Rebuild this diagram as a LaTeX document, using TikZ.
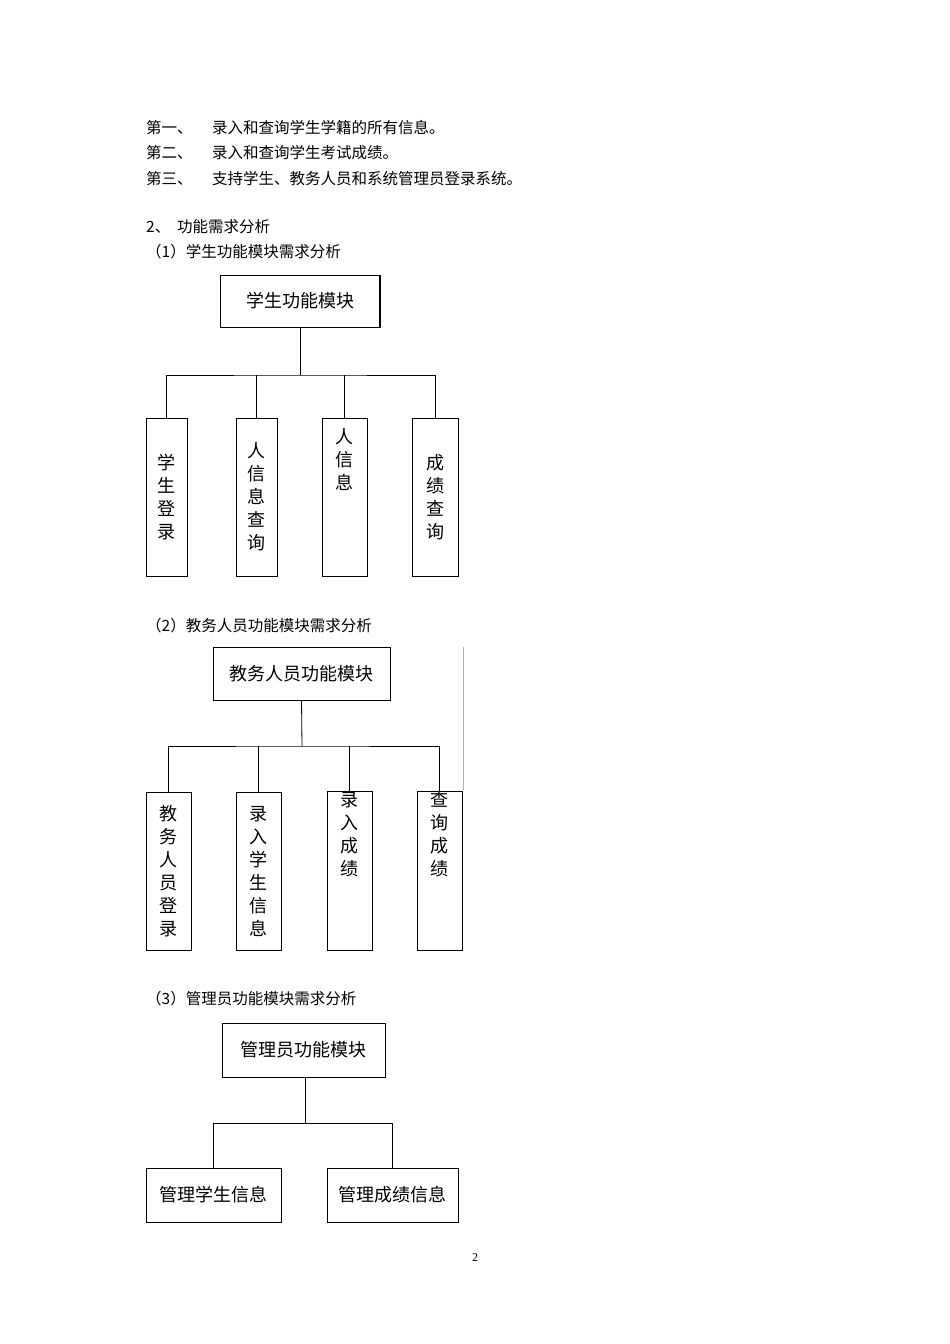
\documentclass[tikz,border=0pt]{standalone}
\usepackage{fontspec}
\setmainfont{Liberation Serif}
\newfontfamily\cjk{Noto Sans CJK SC}
\tikzset{
  modbox/.style={draw, line width=0.8pt, inner sep=0pt, font=\cjk\fontsize{18}{22}\selectfont},
  leafbox/.style={draw, line width=0.8pt, inner sep=0pt, align=center, font=\cjk\fontsize{18}{23}\selectfont},
  txt/.style={anchor=west, inner sep=0pt, font=\cjk\fontsize{15.5}{18}\selectfont},
  link/.style={line width=0.8pt}
}
\begin{document}
\begin{tikzpicture}[x=1pt,y=-1pt]
\useasboundingbox[fill=white] (0,0) rectangle (950,1344);
% intro text
\node[txt] (l1a) at (146,128) {第一、};
\node[txt] (l1b) at (212,128) {录入和查询学生学籍的所有信息。};
\node[txt] (l2a) at (146,153) {第二、};
\node[txt] (l2b) at (212,153) {录入和查询学生考试成绩。};
\node[txt] (l3a) at (146,179) {第三、};
\node[txt] (l3b) at (212,179) {支持学生、教务人员和系统管理员登录系统。};
\node[txt] (h2) at (146,227) {2、\ \ 功能需求分析};
\node[txt] (h21) at (146,252) {（1）学生功能模块需求分析};
% diagram 1
\node[modbox, minimum width=160, minimum height=52] (stu) at (300,301) {学生功能模块};
\draw[line width=1.6pt] ([xshift=-0.5pt]stu.north east) -- ([xshift=-0.5pt]stu.south east) -- (stu.south west);
\node[leafbox, minimum width=41, minimum height=158] (s1) at (166.5,497) {学\\生\\登\\录};
\node[leafbox, minimum width=41, minimum height=158] (s2) at (256.5,497) {人\\信\\息\\查\\询};
\node[leafbox, minimum width=45, minimum height=158] (s3) at (344.5,497) {人\\信\\息\\[2.9em]};
\node[leafbox, minimum width=46, minimum height=158] (s4) at (435,497) {成\\绩\\查\\询};
\coordinate (j1) at (300,375);
\draw[link] (stu.south) -- (j1);
\draw[link] (s1.north) |- (j1) -| (s4.north);
\draw[link] (s2.north) -- (s2.north |- j1);
\draw[link] (s3.north) -- (s3.north |- j1);
\draw[line width=1.4pt] (s1.north east) -- (s1.south east) -- (s1.south west);
% diagram 2
\node[txt] (h22) at (146,626) {（2）教务人员功能模块需求分析};
\node[modbox, minimum width=177, minimum height=53] (adm) at (301.5,673.5) {教务人员功能模块};
\node[leafbox, minimum width=45, minimum height=158] (a1) at (168.5,871) {教\\务\\人\\员\\登\\录};
\node[leafbox, minimum width=45, minimum height=158] (a2) at (258.5,871) {录\\入\\学\\生\\信\\息};
\node[leafbox, minimum width=45, minimum height=158] (a3) at (349.5,871) {录\\入\\成\\绩\\[2.9em]};
\node[leafbox, minimum width=45, minimum height=158] (a4) at (439.5,871) {查\\询\\成\\绩\\[2.9em]};
\coordinate (j2) at (302,746);
\draw[link] (adm.south) -- (j2);
\draw[link] (a1.north) |- (j2) -| (a4.north);
\draw[link] (a2.north) -- (a2.north |- j2);
\draw[link] (a3.north) -- (a3.north |- j2);
\draw[gray!60, line width=0.5pt] (463,647) -- (463,790);
% diagram 3
\node[txt] (h23) at (146,999) {（3）管理员功能模块需求分析};
\node[modbox, minimum width=163, minimum height=54] (sys) at (303.5,1050) {管理员功能模块};
\draw[line width=1.6pt] (sys.south west) -- (sys.south east);
\node[modbox, minimum width=135, minimum height=54] (m1) at (213.5,1195) {管理学生信息};
\node[modbox, minimum width=131, minimum height=54] (m2) at (392.5,1195) {管理成绩信息};
\coordinate (j3) at (305,1123);
\draw[link] (sys.south -| j3) -- (j3);
\draw[link] (m1.north) |- (j3) -| (m2.north);
% page number
\node[inner sep=0pt, font=\fontsize{12}{14}\selectfont] (pg) at (475,1258) {2};
\end{tikzpicture}
\end{document}
